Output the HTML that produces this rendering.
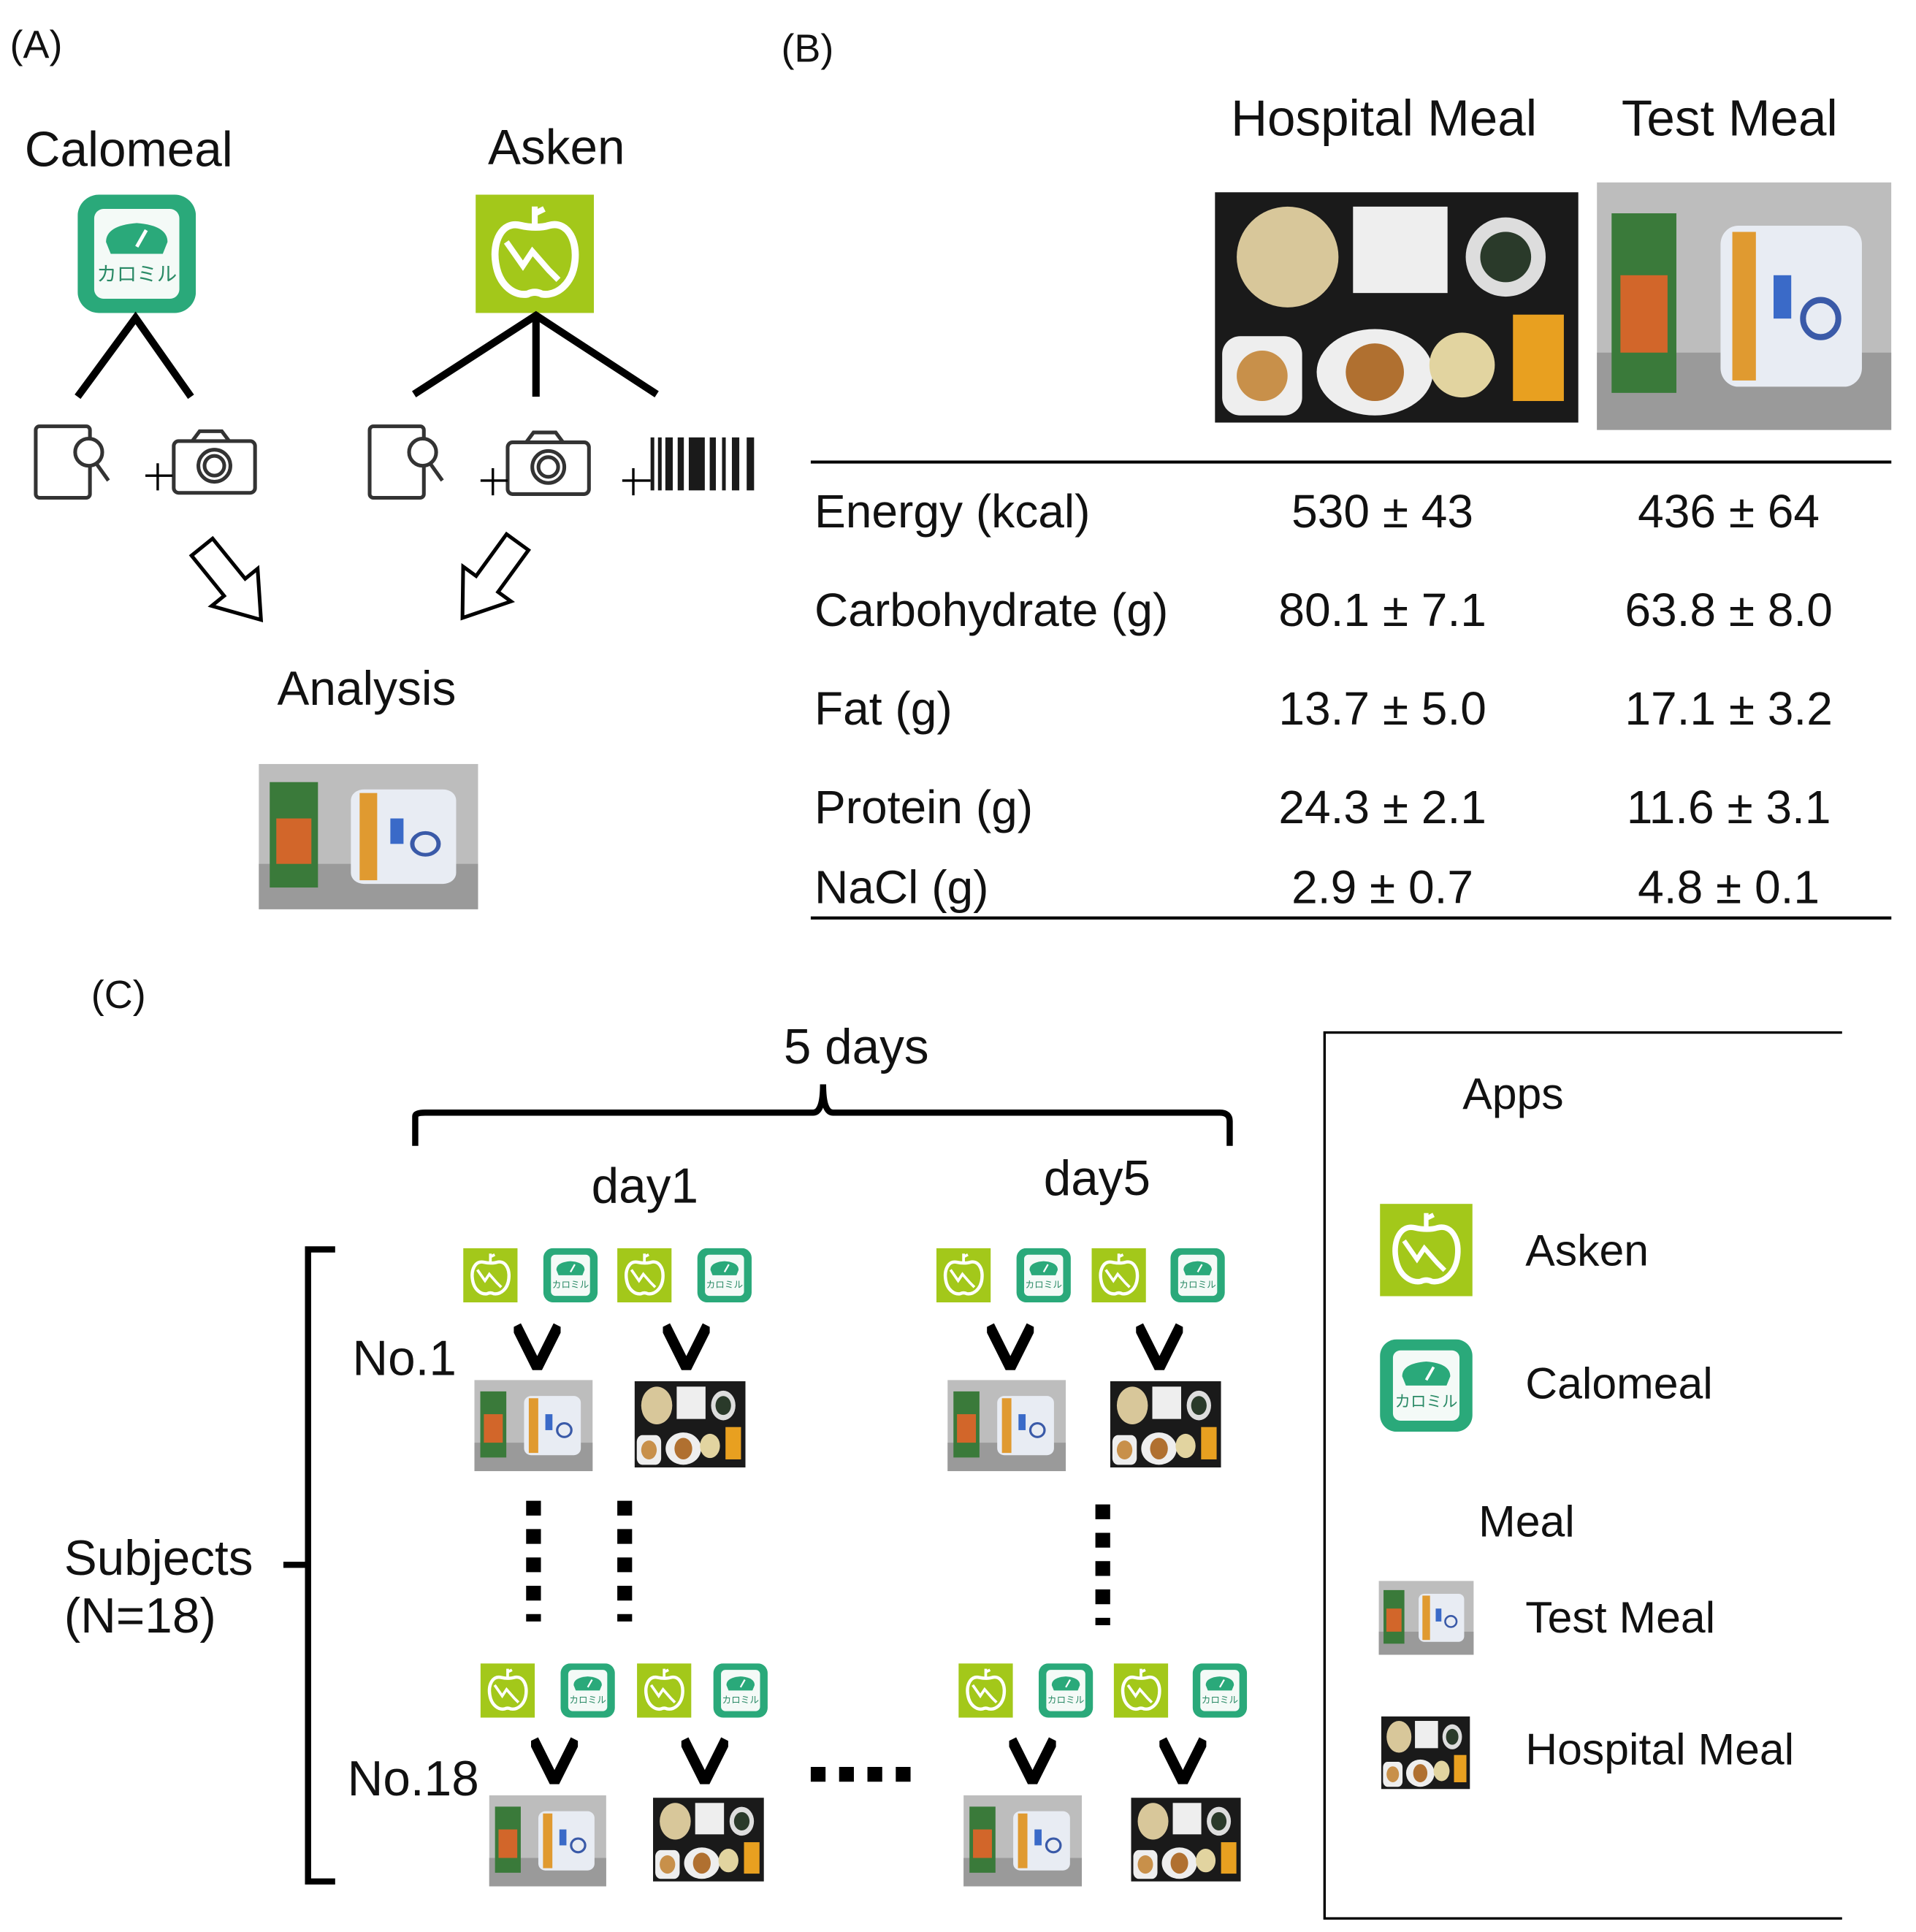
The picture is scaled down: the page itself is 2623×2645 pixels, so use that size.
<!DOCTYPE html>
<html><head><meta charset="utf-8"><style>
html,body{margin:0;padding:0;background:#fff}
svg{display:block}
text{font-family:"Liberation Sans","Noto Sans CJK JP",sans-serif;fill:#111}
</style></head><body>
<svg width="2623" height="2645" viewBox="0 0 1555 1568" preserveAspectRatio="none" xmlns="http://www.w3.org/2000/svg">
<defs>
<symbol id="asken" viewBox="0 0 100 100">
<rect width="100" height="100" fill="#a3c81a"/>
<path d="M38 26 C22 22 14 40 17 58 C20 78 34 86 44 84 C48 82 52 82 56 84 C68 86 82 76 84 56 C86 36 76 22 62 26 C56 28 46 28 38 26Z" fill="none" stroke="#fff" stroke-width="6"/>
<path d="M50 26 V10 M50 16 L58 12" stroke="#fff" stroke-width="5" fill="none"/>
<path d="M26 40 L40 60 L48 48 L62 64 L70 72" stroke="#fff" stroke-width="5" fill="none"/>
</symbol>
<symbol id="calo" viewBox="0 0 100 100">
<rect width="100" height="100" rx="18" fill="#2aa97a"/>
<rect x="14" y="12" width="72" height="76" rx="8" fill="#f4faf7"/>
<path d="M24 40 Q24 26 50 24 Q76 26 76 40 L72 50 H28Z" fill="#2aa97a"/>
<path d="M50 44 L58 30" stroke="#fff" stroke-width="3"/>
<text x="50" y="73" font-size="17" text-anchor="middle" style="fill:#2a8a66">カロミル</text>
</symbol>
<symbol id="test" viewBox="0 0 100 80" preserveAspectRatio="none">
<rect width="100" height="80" fill="#bdbdbd"/>
<rect y="55" width="100" height="25" fill="#9a9a9a"/>
<rect x="5" y="10" width="22" height="58" fill="#3a7a3a"/>
<rect x="8" y="30" width="16" height="25" fill="#d2662a"/>
<rect x="42" y="14" width="48" height="52" rx="6" fill="#e8ecf3"/>
<rect x="46" y="16" width="8" height="48" fill="#e09a30"/>
<rect x="60" y="30" width="6" height="14" fill="#3a6ac8"/>
<circle cx="76" cy="44" r="6" fill="none" stroke="#3a5aa8" stroke-width="2"/>
</symbol>
<symbol id="hosp" viewBox="0 0 100 64" preserveAspectRatio="none">
<rect width="100" height="64" fill="#1a1a1a"/>
<circle cx="20" cy="18" r="14" fill="#d8c79a"/>
<rect x="38" y="4" width="26" height="24" fill="#eee"/>
<circle cx="80" cy="18" r="11" fill="#ddd"/><circle cx="80" cy="18" r="7" fill="#2a3a2a"/>
<rect x="2" y="40" width="22" height="22" rx="5" fill="#eee"/><circle cx="13" cy="51" r="7" fill="#c8904a"/>
<ellipse cx="44" cy="50" rx="16" ry="12" fill="#eee"/><circle cx="44" cy="50" r="8" fill="#b07030"/>
<circle cx="68" cy="48" r="9" fill="#e2d4a0"/>
<rect x="82" y="34" width="14" height="24" fill="#e8a020"/>
</symbol>
<symbol id="chev" viewBox="0 0 40 40"><path d="M2 2 L20 38 L38 2" fill="none" stroke="#000" stroke-width="9"/></symbol>
</defs>

<!-- (A) -->
<text x="8" y="47" font-size="32">(A)</text>
<text x="20" y="135" font-size="40">Calomeal</text>
<text x="396" y="133" font-size="40">Asken</text>
<use href="#calo" x="63" y="158" width="96" height="96"/>
<use href="#asken" x="386" y="158" width="96" height="96"/>
<g stroke="#000" stroke-width="6" fill="none">
<path d="M63 322 L110 258 L155 322"/>
<path d="M336 320 L435 256 L533 320 M435 256 V322"/>
</g>
<g stroke="#333" stroke-width="3" fill="none">
<rect x="29" y="346" width="44" height="58" rx="3"/><circle cx="72" cy="367" r="11" fill="#fff"/><path d="M78 376 L88 390"/>
<rect x="300" y="346" width="44" height="58" rx="3"/><circle cx="343" cy="367" r="11" fill="#fff"/><path d="M349 376 L359 390"/>
<rect x="141" y="358" width="66" height="42" rx="4"/><path d="M156 358 L162 350 H180 L186 358"/><circle cx="174" cy="378" r="13"/><circle cx="174" cy="378" r="8"/>
<rect x="412" y="359" width="66" height="42" rx="4"/><path d="M427 359 L433 351 H451 L457 359"/><circle cx="445" cy="379" r="13"/><circle cx="445" cy="379" r="8"/>
</g>
<g stroke="#000" stroke-width="2">
<path d="M118 386 H140 M128 376 V398"/><path d="M390 390 H412 M400 380 V402"/><path d="M505 390 H528 M514 380 V402"/>
</g>
<g fill="#1a1a1a">
<rect x="528" y="355" width="3" height="43"/><rect x="534" y="355" width="3" height="43"/><rect x="540" y="355" width="6" height="43"/><rect x="550" y="355" width="5" height="43"/><rect x="559" y="355" width="13" height="43"/><rect x="576" y="355" width="5" height="43"/><rect x="586" y="355" width="3" height="43"/><rect x="594" y="355" width="6" height="43"/><rect x="606" y="355" width="6" height="43"/>
</g>
<g fill="#fff" stroke="#000" stroke-width="3" stroke-linejoin="miter">
<path transform="translate(164,444) rotate(-39)" d="M-11 0 L11 0 L11 42 L24 42 L0 76 L-24 42 L-11 42 Z"/>
<path transform="translate(420,440) rotate(36)" d="M-11 0 L11 0 L11 42 L24 42 L0 76 L-24 42 L-11 42 Z"/>
</g>
<text x="225" y="572" font-size="39">Analysis</text>
<use href="#test" x="210" y="620" width="178" height="118"/>

<!-- (B) -->
<text x="634" y="50" font-size="32">(B)</text>
<text x="999" y="110" font-size="41">Hospital Meal</text>
<text x="1316" y="110" font-size="41">Test Meal</text>
<use href="#hosp" x="986" y="156" width="295" height="187"/>
<use href="#test" x="1296" y="148" width="239" height="201"/>
<path d="M658 375 H1535 M658 745 H1535" stroke="#000" stroke-width="2.5"/>
<g font-size="38">
<text x="661" y="428">Energy (kcal)</text><text x="1122" y="428" text-anchor="middle">530 ± 43</text><text x="1403" y="428" text-anchor="middle">436 ± 64</text>
<text x="661" y="508">Carbohydrate (g)</text><text x="1122" y="508" text-anchor="middle">80.1 ± 7.1</text><text x="1403" y="508" text-anchor="middle">63.8 ± 8.0</text>
<text x="661" y="588">Fat (g)</text><text x="1122" y="588" text-anchor="middle">13.7 ± 5.0</text><text x="1403" y="588" text-anchor="middle">17.1 ± 3.2</text>
<text x="661" y="668">Protein (g)</text><text x="1122" y="668" text-anchor="middle">24.3 ± 2.1</text><text x="1403" y="668" text-anchor="middle">11.6 ± 3.1</text>
<text x="661" y="733">NaCl (g)</text><text x="1122" y="733" text-anchor="middle">2.9 ± 0.7</text><text x="1403" y="733" text-anchor="middle">4.8 ± 0.1</text>
</g>

<!-- (C) -->
<text x="74" y="818" font-size="32">(C)</text>
<text x="636" y="863" font-size="40">5 days</text>
<path d="M337 930 V906 Q337 903 345 903 H660 Q668 903 668 880 Q668 903 676 903 H990 Q998 903 998 910 V930" fill="none" stroke="#000" stroke-width="5"/>
<text x="480" y="976" font-size="40">day1</text>
<text x="847" y="970" font-size="40">day5</text>
<path d="M272 1014 H250 V1527 H272 M250 1270 H230" fill="none" stroke="#000" stroke-width="5"/>
<text x="52" y="1278" font-size="40">Subjects</text>
<text x="52" y="1325" font-size="40">(N=18)</text>
<text x="286" y="1116" font-size="40">No.1</text>
<text x="282" y="1457" font-size="40">No.18</text>

<use href="#asken" x="375" y="1013" width="46" height="44"/><use href="#calo" x="440" y="1013" width="46" height="44"/><use href="#asken" x="500" y="1013" width="46" height="44"/><use href="#calo" x="565" y="1013" width="46" height="44"/>
<use href="#asken" x="759" y="1013" width="46" height="44"/><use href="#calo" x="824" y="1013" width="46" height="44"/><use href="#asken" x="885" y="1013" width="46" height="44"/><use href="#calo" x="949" y="1013" width="46" height="44"/>
<use href="#chev" x="417" y="1074" width="38" height="38"/><use href="#chev" x="538" y="1074" width="38" height="38"/><use href="#chev" x="801" y="1074" width="38" height="38"/><use href="#chev" x="922" y="1074" width="38" height="38"/>
<use href="#test" x="385" y="1120" width="96" height="74"/><use href="#hosp" x="515" y="1121" width="90" height="70"/>
<use href="#test" x="769" y="1120" width="96" height="74"/><use href="#hosp" x="901" y="1121" width="90" height="70"/>
<g stroke="#000" stroke-width="12" stroke-dasharray="12 11">
<path d="M433 1218 V1316"/><path d="M507 1218 V1316"/><path d="M895 1221 V1319"/>
<path d="M658 1440 H742"/>
</g>
<use href="#asken" x="389" y="1350" width="46" height="44"/><use href="#calo" x="454" y="1350" width="46" height="44"/><use href="#asken" x="516" y="1350" width="46" height="44"/><use href="#calo" x="578" y="1350" width="46" height="44"/>
<use href="#asken" x="777" y="1350" width="46" height="44"/><use href="#calo" x="842" y="1350" width="46" height="44"/><use href="#asken" x="903" y="1350" width="46" height="44"/><use href="#calo" x="967" y="1350" width="46" height="44"/>
<use href="#chev" x="431" y="1410" width="38" height="38"/><use href="#chev" x="553" y="1410" width="38" height="38"/><use href="#chev" x="819" y="1410" width="38" height="38"/><use href="#chev" x="941" y="1410" width="38" height="38"/>
<use href="#test" x="397" y="1457" width="95" height="74"/><use href="#hosp" x="530" y="1459" width="90" height="68"/>
<use href="#test" x="782" y="1457" width="96" height="74"/><use href="#hosp" x="918" y="1459" width="89" height="68"/>

<!-- legend -->
<path d="M1495 838 H1075 V1557 H1495" fill="none" stroke="#000" stroke-width="2"/>
<text x="1187" y="900" font-size="36">Apps</text>
<use href="#asken" x="1119" y="977" width="77" height="75"/>
<text x="1238" y="1027" font-size="36">Asken</text>
<use href="#calo" x="1119" y="1087" width="77" height="75"/>
<text x="1238" y="1135" font-size="36">Calomeal</text>
<text x="1200" y="1247" font-size="36">Meal</text>
<use href="#test" x="1119" y="1283" width="77" height="60"/>
<text x="1238" y="1325" font-size="36">Test Meal</text>
<use href="#hosp" x="1121" y="1393" width="72" height="59"/>
<text x="1238" y="1432" font-size="36">Hospital Meal</text>
</svg>
</body></html>
